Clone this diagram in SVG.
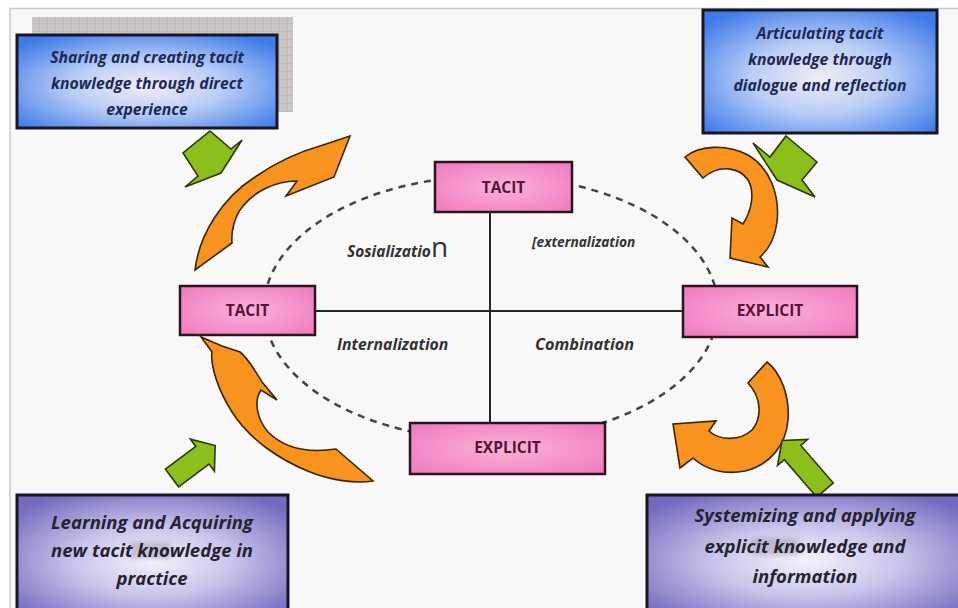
<svg xmlns="http://www.w3.org/2000/svg" width="958" height="608" viewBox="0 0 958 608">
  <defs>
    <radialGradient id="blueFill" cx="50%" cy="55%" r="65%">
      <stop offset="0" stop-color="#f2ecf6"/>
      <stop offset="0.45" stop-color="#b9cdf6"/>
      <stop offset="1" stop-color="#3f7be8"/>
    </radialGradient>
    <radialGradient id="purpleFill" cx="50%" cy="55%" r="65%">
      <stop offset="0" stop-color="#f4f2fb"/>
      <stop offset="0.45" stop-color="#c9c4ea"/>
      <stop offset="1" stop-color="#7469bf"/>
    </radialGradient>
    <radialGradient id="pinkFill" cx="50%" cy="50%" r="70%">
      <stop offset="0" stop-color="#fbb2da"/>
      <stop offset="1" stop-color="#f078bd"/>
    </radialGradient>
    <pattern id="grid" width="8" height="8" patternUnits="userSpaceOnUse">
      <rect width="8" height="8" fill="#cbc6c6"/>
      <path d="M8 0V8M0 8H8" stroke="#b3adad" stroke-width="1"/>
    </pattern>
    <filter id="soft" x="-20%" y="-50%" width="140%" height="200%">
      <feGaussianBlur stdDeviation="2"/>
    </filter>
    <style>
      .note { stroke: #161624; stroke-width: 3; }
      .noteText { font-family: "Open Sans", "Liberation Sans", sans-serif; font-weight: bold; font-style: italic; text-anchor: middle; }
      .blueText { fill: #1e2a55; font-size: 15.8px; }
      .purpleText { fill: #252330; font-size: 18.5px; }
      .mode { fill: url(#pinkFill); stroke: #2a1420; stroke-width: 2.5; }
      .modeText { font-family: "Open Sans", "Liberation Sans", sans-serif; font-weight: bold; font-size: 15.5px; fill: #5a1236; text-anchor: middle; }
      .quad { font-family: "Open Sans", "Liberation Sans", sans-serif; font-weight: bold; font-style: italic; fill: #333; }
      .flow { fill: #f7931e; stroke: #3b2608; stroke-width: 1.6; stroke-linejoin: miter; }
      .push { fill: #8cbf1c; stroke: #2c3a08; stroke-width: 1.6; stroke-linejoin: miter; }
      .axis { stroke: #262626; stroke-width: 2; fill: none; }
      .cycle { stroke: #444; stroke-width: 2.5; fill: none; stroke-dasharray: 7 6; }
    </style>
  </defs>

  <!-- page -->
  <rect width="958" height="608" fill="#ffffff"/>
  <rect x="10" y="8" width="948" height="600" fill="#f8f8f8"/>
  <path d="M10 608V8.5H958" fill="none" stroke="#c9c9c9" stroke-width="1.5"/>

  <!-- dashed cycle and axes -->
  <g id="connectors">
    <ellipse class="cycle" cx="491" cy="308" rx="227" ry="132"/>
    <line class="axis" x1="490" y1="212" x2="490" y2="423"/>
    <line class="axis" x1="315" y1="311" x2="683" y2="311"/>
  </g>

  <!-- quadrant labels -->
  <g id="quadrants">
    <text class="quad" x="347" y="257" font-size="15.5">Sosializatio<tspan font-size="28" font-weight="normal" font-style="normal">n</tspan></text>
    <text class="quad" x="532" y="247" font-size="13.7">[externalization</text>
    <text class="quad" x="337" y="350" font-size="15.8">Internalization</text>
    <text class="quad" x="535" y="350" font-size="16.3">Combination</text>
  </g>

  <!-- knowledge modes -->
  <g id="tacit-top">
    <rect class="mode" x="435" y="162" width="137" height="50"/>
    <text class="modeText" x="503.5" y="193">TACIT</text>
  </g>
  <g id="tacit-left">
    <rect class="mode" x="180" y="286" width="135" height="49"/>
    <text class="modeText" x="247.5" y="316">TACIT</text>
  </g>
  <g id="explicit-right">
    <rect class="mode" x="683" y="286" width="174" height="51"/>
    <text class="modeText" x="770" y="316">EXPLICIT</text>
  </g>
  <g id="explicit-bottom">
    <rect class="mode" x="410" y="423" width="195" height="51"/>
    <text class="modeText" x="507.5" y="453">EXPLICIT</text>
  </g>

  <!-- curved process arrows -->
  <g id="flow-socialization">
    <path class="flow" d="M195,270 C199,235 222,198 255,177 C275,163 298,152 323,145 L350,136 L334,177 L286,196 L297,181 C275,181 254,192 243,206 C234,217 231,232 232,243 Z"/>
  </g>
  <g id="flow-externalization">
    <path class="flow" d="M685,157 C698,146 725,143 748,155 C770,168 780,195 777,222 C775,238 768,250 760,257 L768,267 L730,258 L732,218 L743,224 C752,210 755,192 748,180 C740,168 720,163 703,178 Z"/>
  </g>
  <g id="flow-combination">
    <path class="flow" d="M767,362 C780,372 790,395 788,420 C786,445 770,465 745,471 C725,475 706,470 693,458 L680,468 L673,424 L716,421 L709,431 C720,441 740,441 752,430 C762,418 762,398 748,383 Z"/>
  </g>
  <g id="flow-internalization">
    <path class="flow" d="M201,337 L222,346 L240,352 C248,358 256,372 262,382 L277,400 L261,390 C254,400 256,418 268,432 C282,446 303,454 336,449 L373,481 C355,484 330,480 310,472 C280,460 250,440 232,412 C218,390 210,365 212,352 Z"/>
  </g>

  <!-- block arrows from the notes -->
  <g id="push-top-left">
    <path class="push" d="M210,131 L231,149 L242,140 L221,173 L185,187 L198,176 L183,153 Z"/>
  </g>
  <g id="push-top-right">
    <path class="push" d="M786,136 L817,162 L802,180 L815,197 L777,180 L753,143 L770,157 Z"/>
  </g>
  <g id="push-bottom-left">
    <path class="push" d="M165.4,469.2 L195.8,446.4 L190.4,439.2 L215.2,445.6 L214.4,471.2 L209,464 L178.6,486.8 Z"/>
  </g>
  <g id="push-bottom-right">
    <path class="push" d="M833.3,482.9 L800.8,445.4 L807.5,439.5 L782.1,440.5 L777.5,465.5 L784.3,459.7 L816.8,497.2 Z"/>
  </g>

  <!-- notes -->
  <g id="note-socialization">
    <rect x="32" y="17" width="261" height="95" fill="url(#grid)"/>
    <rect class="note" x="17" y="35" width="260" height="93" fill="url(#blueFill)"/>
    <text class="noteText blueText" x="147" y="63">Sharing and creating tacit</text>
    <text class="noteText blueText" x="147" y="89">knowledge through direct</text>
    <text class="noteText blueText" x="147" y="115">experience</text>
  </g>
  <g id="note-externalization">
    <rect class="note" x="703" y="10" width="234" height="123" fill="url(#blueFill)"/>
    <text class="noteText blueText" x="820" y="39">Articulating tacit</text>
    <text class="noteText blueText" x="820" y="65">knowledge through</text>
    <text class="noteText blueText" x="820" y="91">dialogue and reflection</text>
  </g>
  <g id="note-internalization">
    <rect class="note" x="17" y="495" width="271" height="120" fill="url(#purpleFill)"/>
    <rect x="130" y="542" width="40" height="17" fill="#9a98a8" opacity="0.45" filter="url(#soft)"/>
    <text class="noteText purpleText" x="152" y="529">Learning and Acquiring</text>
    <text class="noteText purpleText" x="152" y="557">new tacit knowledge in</text>
    <text class="noteText purpleText" x="152" y="585">practice</text>
  </g>
  <g id="note-combination">
    <rect class="note" x="647" y="495" width="320" height="120" fill="url(#purpleFill)"/>
    <rect x="752" y="538" width="46" height="17" fill="#9a98a8" opacity="0.45" filter="url(#soft)"/>
    <text class="noteText purpleText" x="805" y="522">Systemizing and applying</text>
    <text class="noteText purpleText" x="805" y="553">explicit knowledge and</text>
    <text class="noteText purpleText" x="805" y="583">information</text>
  </g>
</svg>
